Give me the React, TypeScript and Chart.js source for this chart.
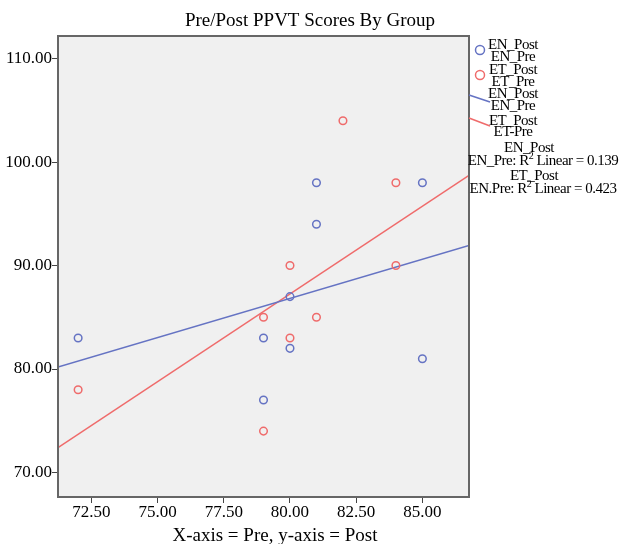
import React, { useEffect, useRef } from 'react';
import { Chart, registerables } from 'chart.js';
Chart.register(...registerables);

// ---- data ----
const enPre = [72, 79, 79, 80, 80, 81, 81, 85, 85];
const enPost = [83, 83, 77, 87, 82, 98, 94, 98, 81];
const etPre = [72, 79, 79, 80, 80, 81, 82, 84, 84];
const etPost = [78, 85, 74, 90, 83, 85, 104, 98, 90];
const xTicks = [72.5, 75, 77.5, 80, 82.5, 85];
const yTicks = [70, 80, 90, 100, 110];
const xRange = [71.24, 86.76];
const yRange = [67.63, 112.19];
const chartTitle = 'Pre/Post PPVT Scores By Group';
const xAxisTitle = 'X-axis = Pre, y-axis = Post';
const legendPoints = [
  ['EN_Post', 'EN_Pre'],
  ['ET_Post', 'ET_Pre'],
];
const legendLines = [
  ['EN_Post', 'EN_Pre'],
  ['ET_Post', 'ET-Pre'],
];
const legendR2 = [
  ['EN_Post', 'EN_Pre: R'],
  ['ET_Post', 'EN.Pre: R'],
];

const BLUE = '#6573C3';
const RED = '#EF6B6B';
const FF = "'Liberation Serif', 'Times New Roman', serif";

function fit(xs: number[], ys: number[]) {
  const n = xs.length;
  const mx = xs.reduce((a, b) => a + b, 0) / n;
  const my = ys.reduce((a, b) => a + b, 0) / n;
  let sxx = 0, sxy = 0, syy = 0;
  for (let i = 0; i < n; i++) {
    sxx += (xs[i] - mx) ** 2;
    sxy += (xs[i] - mx) * (ys[i] - my);
    syy += (ys[i] - my) ** 2;
  }
  const slope = sxy / sxx;
  return { slope, intercept: my - slope * mx, r2: (sxy * sxy) / (sxx * syy) };
}

export default function App() {
  const ref = useRef<HTMLCanvasElement>(null);
  useEffect(() => {
    const canvas = ref.current!;
    const enFit = fit(enPre, enPost);
    const etFit = fit(etPre, etPost);
    const lineData = (f: any) => xRange.map((x) => ({ x, y: f.intercept + f.slope * x }));
    const r2s = [enFit.r2, etFit.r2];

    const deco = {
      id: 'deco',
      beforeDraw(chart: any) {
        const { ctx, chartArea: a } = chart;
        ctx.save();
        ctx.fillStyle = '#ffffff';
        ctx.fillRect(0, 0, chart.width, chart.height);
        ctx.fillStyle = '#F0F0F0';
        ctx.fillRect(a.left, a.top, a.right - a.left, a.bottom - a.top);
        ctx.restore();
      },
      afterDraw(chart: any) {
        const { ctx, chartArea: a } = chart;
        ctx.save();
        ctx.strokeStyle = '#666666';
        ctx.lineWidth = 2;
        ctx.strokeRect(a.left, a.top, a.right - a.left, a.bottom - a.top);

        ctx.fillStyle = '#000';
        ctx.textAlign = 'center';
        ctx.textBaseline = 'alphabetic';
        ctx.font = `19px ${FF}`;
        ctx.fillText(chartTitle, 310, 26);
        ctx.fillText(xAxisTitle, 275, 541);

        // legend
        ctx.font = `15px ${FF}`;
        (ctx as any).letterSpacing = '-0.5px';
        ctx.textBaseline = 'middle';
        const cols = [BLUE, RED];
        const ptY = [[45, 57], [70, 82]];
        legendPoints.forEach((pair, i) => {
          ctx.strokeStyle = cols[i];
          ctx.lineWidth = 1.5;
          ctx.beginPath();
          ctx.arc(480, (ptY[i][0] + ptY[i][1]) / 2 - 1, 4.5, 0, Math.PI * 2);
          ctx.stroke();
          ctx.fillText(pair[0], 513, ptY[i][0]);
          ctx.fillText(pair[1], 513, ptY[i][1]);
        });
        const lnY = [[94, 106], [121, 132]];
        const lnSeg = [[95, 102], [118, 126]];
        legendLines.forEach((pair, i) => {
          ctx.strokeStyle = cols[i];
          ctx.lineWidth = 1.5;
          ctx.beginPath();
          ctx.moveTo(a.right, lnSeg[i][0]);
          ctx.lineTo(490, lnSeg[i][1]);
          ctx.stroke();
          ctx.fillText(pair[0], 513, lnY[i][0]);
          ctx.fillText(pair[1], 513, lnY[i][1]);
        });
        const rY = [[148, 161], [176, 189]];
        const rX = [529, 534];
        legendR2.forEach((pair, i) => {
          ctx.textAlign = 'center';
          ctx.font = `15px ${FF}`;
          ctx.fillText(pair[0], rX[i], rY[i][0]);
          const tail = ' Linear = ' + r2s[i].toFixed(3);
          ctx.font = `15px ${FF}`;
          const w1 = ctx.measureText(pair[1]).width;
          const w3 = ctx.measureText(tail).width;
          ctx.font = `10px ${FF}`;
          const w2 = ctx.measureText('2').width;
          const total = w1 + w2 + w3;
          let x = 543 - total / 2;
          ctx.textAlign = 'left';
          ctx.font = `15px ${FF}`;
          ctx.fillText(pair[1], x, rY[i][1]);
          x += w1;
          ctx.font = `10px ${FF}`;
          ctx.fillText('2', x, rY[i][1] - 5);
          x += w2;
          ctx.font = `15px ${FF}`;
          ctx.fillText(tail, x, rY[i][1]);
        });
        ctx.restore();
      },
    };

    const tickFont = { family: FF, size: 17 };
    const chart = new Chart(canvas, {
      type: 'scatter',
      data: {
        datasets: [
          {
            label: 'EN',
            data: enPre.map((x, i) => ({ x, y: enPost[i] })),
            borderColor: BLUE,
            backgroundColor: 'rgba(0,0,0,0)',
            pointRadius: 3.8,
            pointBorderWidth: 1.5,
            pointHoverRadius: 3.8,
          },
          {
            label: 'ET',
            data: etPre.map((x, i) => ({ x, y: etPost[i] })),
            borderColor: RED,
            backgroundColor: 'rgba(0,0,0,0)',
            pointRadius: 3.8,
            pointBorderWidth: 1.5,
            pointHoverRadius: 3.8,
          },
          {
            label: 'EN fit',
            data: lineData(enFit),
            showLine: true,
            borderColor: BLUE,
            borderWidth: 1.5,
            pointRadius: 0,
          },
          {
            label: 'ET fit',
            data: lineData(etFit),
            showLine: true,
            borderColor: RED,
            borderWidth: 1.5,
            pointRadius: 0,
          },
        ],
      },
      options: {
        animation: false,
        responsive: false,
        devicePixelRatio: 1,
        layout: { padding: { top: 36, right: 152, left: 0, bottom: 0 } },
        plugins: { legend: { display: false }, tooltip: { enabled: false }, title: { display: false } },
        scales: {
          x: {
            type: 'linear',
            min: xRange[0],
            max: xRange[1],
            afterBuildTicks: (s: any) => { s.ticks = xTicks.map((v) => ({ value: v })); },
            afterFit: (s: any) => { s.height = 47; },
            ticks: {
              callback: (v: any) => Number(v).toFixed(2),
              font: tickFont,
              color: '#000',
              padding: -1,
              maxRotation: 0,
              autoSkip: false,
            },
            grid: { drawOnChartArea: false, drawTicks: true, tickLength: 6, color: '#444', lineWidth: 1 },
            border: { display: false },
          },
          y: {
            type: 'linear',
            min: yRange[0],
            max: yRange[1],
            afterBuildTicks: (s: any) => { s.ticks = yTicks.map((v) => ({ value: v })); },
            afterFit: (s: any) => { s.width = 58; },
            ticks: {
              callback: (v: any) => Number(v).toFixed(2),
              font: tickFont,
              color: '#000',
              padding: 0,
              autoSkip: false,
            },
            grid: { drawOnChartArea: false, drawTicks: true, tickLength: 6, color: '#444', lineWidth: 1 },
            border: { display: false },
          },
        },
      },
      plugins: [deco],
    });
    return () => chart.destroy();
  }, []);

  return (
    <div style={{ position: 'absolute', left: 0, top: 0, width: 621, height: 544 }}>
      <canvas ref={ref} width={621} height={544} />
    </div>
  );
}
